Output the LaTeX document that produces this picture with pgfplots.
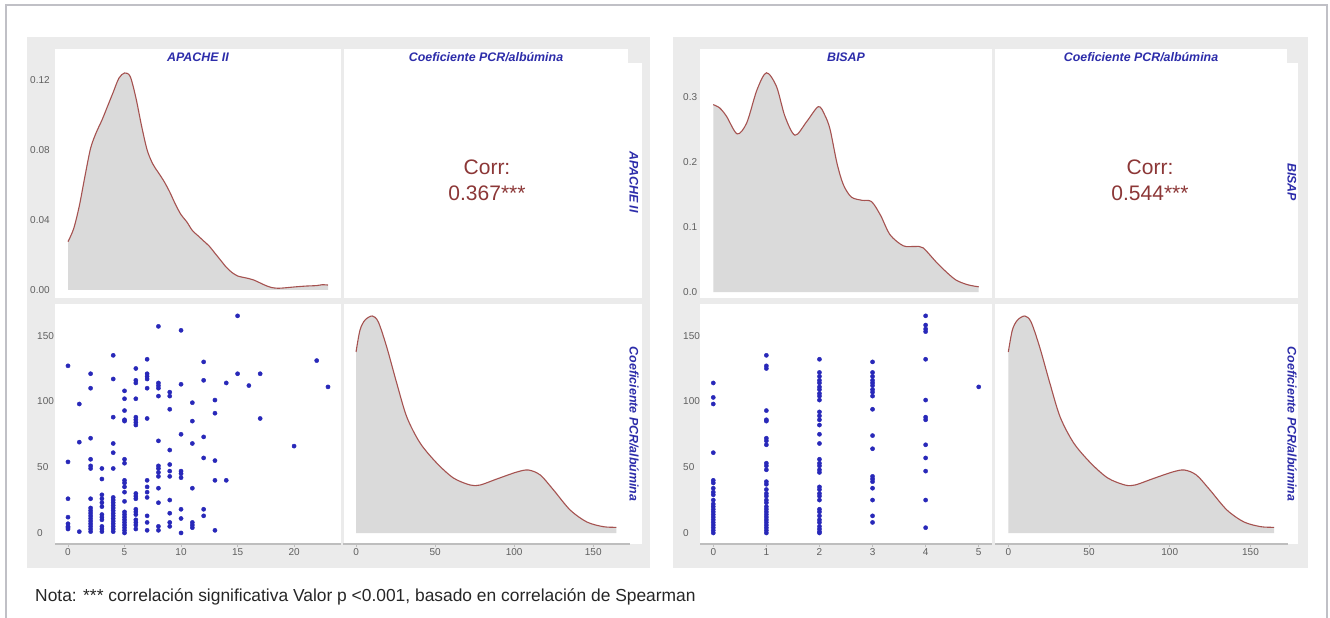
\documentclass[border=0pt]{standalone}
\usepackage{pgfplots}
\pgfplotsset{compat=1.18}
\usepackage{fontspec}
\setmainfont{Liberation Sans}
\definecolor{bgpanel}{RGB}{235,235,235}
\definecolor{framecol}{RGB}{192,192,198}
\definecolor{densfill}{RGB}{218,218,218}
\definecolor{curvecol}{RGB}{165,82,80}
\definecolor{ptscol}{RGB}{40,40,185}
\definecolor{stripcol}{RGB}{45,45,170}
\definecolor{corrcol}{RGB}{140,55,55}
\definecolor{tickcol}{RGB}{95,95,95}
\definecolor{axiscol}{RGB}{190,190,190}
\pgfplotsset{
  panel/.style={scale only axis, anchor=north west, axis lines*=left,
    axis line style={-},
    y axis line style={draw=none}, x axis line style={draw=none},
    ytick style={draw=none}, xtick style={draw=none},
    major tick length=3pt, xtick align=outside, ytick align=inside,
    ticklabel style={font=\fontsize{10}{10}\selectfont, text=tickcol},
    yticklabel style={anchor=west, inner sep=0pt},
    xticklabel style={inner sep=1pt},
    clip=false},
  bottomrow/.style={x axis line style={draw=axiscol, line width=1.3pt},
    xtick style={draw=axiscol, line width=0.8pt}},
  dens/.style={draw=none, fill=densfill, smooth},
  densline/.style={draw=curvecol, line width=1.1pt, smooth},
  pts/.style={only marks, mark=*, mark size=2.1pt, color=ptscol, mark options={fill=ptscol, draw=ptscol}},
}
\newcommand\stripfont{\fontsize{12.4}{14}\selectfont\bfseries\itshape}
\begin{document}
\begin{tikzpicture}
\path[use as bounding box] (0pt,0pt) rectangle (1330pt,-618pt);
\fill[white] (0pt,0pt) rectangle (1330pt,-618pt);
\begin{scope}[x=1pt,y=1pt]
\draw[framecol, line width=2.5pt] (6,-640) -- (6,-5) -- (1327,-5) -- (1327,-640);
% gray backgrounds
\fill[bgpanel] (27,-37) rectangle (650,-568);
\fill[bgpanel] (673,-37) rectangle (1308,-568);
% white panels left
\fill[white] (55,-49) rectangle (341,-298);
\fill[white] (344,-49) rectangle (628,-298);
\fill[white] (344,-63) rectangle (642,-298);
\fill[white] (55,-304) rectangle (341,-544);
\fill[white] (344,-304) rectangle (642,-544);
% white panels right
\fill[white] (700,-49) rectangle (992,-298);
\fill[white] (995,-49) rectangle (1287,-298);
\fill[white] (995,-63) rectangle (1298,-298);
\fill[white] (700,-304) rectangle (992,-544);
\fill[white] (995,-304) rectangle (1298,-544);
\end{scope}

% ---------- LEFT: APACHE II density
\begin{axis}[panel, at={(55pt,-63pt)}, width=286pt, height=235pt,
  xmin=-1.15, xmax=24.15, ymin=-0.0046, ymax=0.1297,
  xtick=\empty, ytick={0,0.04,0.08,0.12}, yticklabels={0.00,0.04,0.08,0.12},
  yticklabel style={xshift=-25pt}]
\addplot[dens] coordinates {(0,0.0276) (0.5,0.035) (1.0,0.048) (1.5,0.065) (2.0,0.081) (2.5,0.090) (3.0,0.097) (3.5,0.105) (4.0,0.113) (4.5,0.121) (5.0,0.124) (5.5,0.122) (6.0,0.110) (6.5,0.094) (7.0,0.080) (7.5,0.072) (8.0,0.067) (8.5,0.062) (9.0,0.056) (9.5,0.049) (10.0,0.043) (10.5,0.039) (11.0,0.034) (11.5,0.031) (12.0,0.028) (12.5,0.025) (13.0,0.021) (13.5,0.017) (14.0,0.013) (14.5,0.010) (15.0,0.008) (15.5,0.0072) (16.0,0.0065) (16.5,0.0055) (17.0,0.004) (17.5,0.0025) (18.0,0.0014) (18.5,0.0010) (19.0,0.0011) (20.0,0.0017) (21.0,0.0022) (22.0,0.0025) (22.5,0.0030) (23.0,0.0028)} \closedcycle;
\addplot[densline] coordinates {(0,0.0276) (0.5,0.035) (1.0,0.048) (1.5,0.065) (2.0,0.081) (2.5,0.090) (3.0,0.097) (3.5,0.105) (4.0,0.113) (4.5,0.121) (5.0,0.124) (5.5,0.122) (6.0,0.110) (6.5,0.094) (7.0,0.080) (7.5,0.072) (8.0,0.067) (8.5,0.062) (9.0,0.056) (9.5,0.049) (10.0,0.043) (10.5,0.039) (11.0,0.034) (11.5,0.031) (12.0,0.028) (12.5,0.025) (13.0,0.021) (13.5,0.017) (14.0,0.013) (14.5,0.010) (15.0,0.008) (15.5,0.0072) (16.0,0.0065) (16.5,0.0055) (17.0,0.004) (17.5,0.0025) (18.0,0.0014) (18.5,0.0010) (19.0,0.0011) (20.0,0.0017) (21.0,0.0022) (22.0,0.0025) (22.5,0.0030) (23.0,0.0028)};
\end{axis}

% ---------- LEFT: scatter APACHE vs PCR
\begin{axis}[panel, bottomrow, at={(55pt,-304pt)}, width=286pt, height=240pt,
  xmin=-1.15, xmax=24.15, ymin=-8.4, ymax=174,
  xtick={0,5,10,15,20}, xticklabels={0,5,10,15,20},
  ytick={0,50,100,150}, yticklabels={0,50,100,150},
  yticklabel style={xshift=-18pt}]
\addplot[pts] coordinates {
(0,127) (0,54) (0,26) (0,12) (0,7) (0,5) (0,4) (0,3)
(1,98) (1,69) (1,1)
(2,121) (2,110) (2,72) (2,56) (2,51) (2,49) (2,26) (2,19) (2,17) (2,15) (2,13) (2,11) (2,9) (2,7) (2,5) (2,3) (2,1)
(3,49) (3,41) (3,29) (3,26) (3,23) (3,20) (3,14) (3,12) (3,10) (3,5) (3,3) (3,1)
(4,135) (4,117) (4,88) (4,68) (4,61) (4,49) (4,27) (4,25) (4,23) (4,21) (4,19) (4,17) (4,15) (4,13) (4,11) (4,9) (4,7) (4,5) (4,3) (4,1)
(5,108) (5,102) (5,93) (5,86) (5,85) (5,56) (5,53) (5,40) (5,38) (5,35) (5,31) (5,24) (5,16) (5,14) (5,12) (5,10) (5,8) (5,6) (5,4) (5,2) (5,0)
(6,125) (6,116) (6,114) (6,102) (6,88) (6,86) (6,84) (6,82) (6,30) (6,28) (6,26) (6,18) (6,16) (6,14) (6,10) (6,8) (6,6) (6,3)
(7,132) (7,121) (7,119) (7,117) (7,110) (7,87) (7,40) (7,35) (7,31) (7,27) (7,13) (7,8) (7,2)
(8,157) (8,114) (8,112) (8,110) (8,104) (8,70) (8,51) (8,49) (8,46) (8,43) (8,34) (8,23) (8,5) (8,2)
(9,107) (9,104) (9,94) (9,63) (9,52) (9,47) (9,43) (9,25) (9,15) (9,8) (9,5)
(10,154) (10,113) (10,75) (10,47) (10,45) (10,42) (10,18) (10,11) (10,0)
(11,99) (11,85) (11,68) (11,34) (11,8) (11,6) (11,4)
(12,130) (12,116) (12,73) (12,57) (12,18) (12,13)
(13,101) (13,91) (13,55) (13,40) (13,2)
(14,114) (14,40)
(15,165) (15,121)
(16,112)
(17,121) (17,87)
(20,66) (22,131) (23,111)};
\end{axis}

% ---------- LEFT: PCR density
\begin{axis}[panel, bottomrow, at={(343pt,-304pt)}, width=287pt, height=240pt,
  xmin=-8.25, xmax=173.25, ymin=-11, ymax=229,
  xtick={0,50,100,150}, xticklabels={0,50,100,150}, ytick=\empty]
\addplot[dens] coordinates {(0,181) (2.5,203) (5.7,213) (10.3,217) (14.1,211) (19.4,186) (25.7,150) (32.1,116) (40.5,90) (51,70) (61.6,55) (72.2,48) (78.5,48) (89,54) (101.7,61) (109,63) (116.5,58) (124.9,43) (135.4,23) (146,11) (156.5,6.3) (164.6,5.7)} \closedcycle;
\addplot[densline] coordinates {(0,181) (2.5,203) (5.7,213) (10.3,217) (14.1,211) (19.4,186) (25.7,150) (32.1,116) (40.5,90) (51,70) (61.6,55) (72.2,48) (78.5,48) (89,54) (101.7,61) (109,63) (116.5,58) (124.9,43) (135.4,23) (146,11) (156.5,6.3) (164.6,5.7)};
\end{axis}

% ---------- RIGHT: BISAP density
\begin{axis}[panel, at={(700pt,-63pt)}, width=292pt, height=235pt,
  xmin=-0.25, xmax=5.25, ymin=-0.0092, ymax=0.352,
  xtick=\empty, ytick={0,0.1,0.2,0.3}, yticklabels={0.0,0.1,0.2,0.3},
  yticklabel style={xshift=-17pt}]
\addplot[dens] coordinates {(0,0.288) (0.12,0.283) (0.25,0.27) (0.45,0.243) (0.63,0.26) (0.82,0.31) (1.0,0.337) (1.19,0.316) (1.35,0.27) (1.54,0.241) (1.76,0.262) (1.98,0.285) (2.1,0.272) (2.2,0.25) (2.33,0.198) (2.45,0.165) (2.6,0.146) (2.8,0.141) (2.98,0.139) (3.15,0.118) (3.33,0.088) (3.58,0.071) (3.8,0.070) (3.95,0.068) (4.2,0.046) (4.4,0.030) (4.58,0.018) (4.8,0.011) (5.0,0.008)} \closedcycle;
\addplot[densline] coordinates {(0,0.288) (0.12,0.283) (0.25,0.27) (0.45,0.243) (0.63,0.26) (0.82,0.31) (1.0,0.337) (1.19,0.316) (1.35,0.27) (1.54,0.241) (1.76,0.262) (1.98,0.285) (2.1,0.272) (2.2,0.25) (2.33,0.198) (2.45,0.165) (2.6,0.146) (2.8,0.141) (2.98,0.139) (3.15,0.118) (3.33,0.088) (3.58,0.071) (3.8,0.070) (3.95,0.068) (4.2,0.046) (4.4,0.030) (4.58,0.018) (4.8,0.011) (5.0,0.008)};
\end{axis}

% ---------- RIGHT: scatter BISAP vs PCR
\begin{axis}[panel, bottomrow, at={(700pt,-304pt)}, width=292pt, height=240pt,
  xmin=-0.25, xmax=5.25, ymin=-8.4, ymax=174,
  xtick={0,1,2,3,4,5}, xticklabels={0,1,2,3,4,5},
  ytick={0,50,100,150}, yticklabels={0,50,100,150},
  yticklabel style={xshift=-17pt}]
\addplot[pts] coordinates {
(0,114) (0,103) (0,98) (0,61) (0,40) (0,38) (0,34) (0,31) (0,29) (0,25) (0,22) (0,20) (0,18) (0,16) (0,14) (0,12) (0,10) (0,8) (0,6) (0,4) (0,2) (0,0)
(1,135) (1,127) (1,125) (1,93) (1,86) (1,85) (1,72) (1,70) (1,67) (1,53) (1,51) (1,48) (1,39) (1,37) (1,33) (1,30) (1,28) (1,25) (1,23) (1,20) (1,18) (1,16) (1,14) (1,12) (1,10) (1,8) (1,6) (1,4) (1,2) (1,0)
(2,132) (2,122) (2,119) (2,116) (2,114) (2,111) (2,109) (2,106) (2,104) (2,101) (2,92) (2,89) (2,86) (2,82) (2,75) (2,68) (2,56) (2,53) (2,51) (2,48) (2,46) (2,35) (2,33) (2,30) (2,28) (2,25) (2,18) (2,16) (2,13) (2,10) (2,8) (2,5) (2,3) (2,1) (2,0)
(3,130) (3,122) (3,119) (3,116) (3,114) (3,112) (3,109) (3,107) (3,104) (3,94) (3,74) (3,64) (3,43) (3,41) (3,39) (3,34) (3,25) (3,13) (3,8)
(4,165) (4,158) (4,155) (4,153) (4,132) (4,101) (4,88) (4,86) (4,67) (4,57) (4,47) (4,25) (4,4)
(5,111)};
\end{axis}

% ---------- RIGHT: PCR density
\begin{axis}[panel, bottomrow, at={(995pt,-304pt)}, width=293pt, height=240pt,
  xmin=-8.25, xmax=173.25, ymin=-11, ymax=229,
  xtick={0,50,100,150}, xticklabels={0,50,100,150}, ytick=\empty]
\addplot[dens] coordinates {(0,181) (2.5,203) (5.7,213) (10.3,217) (14.1,211) (19.4,186) (25.7,150) (32.1,116) (40.5,90) (51,70) (61.6,55) (72.2,48) (78.5,48) (89,54) (101.7,61) (109,63) (116.5,58) (124.9,43) (135.4,23) (146,11) (156.5,6.3) (164.6,5.7)} \closedcycle;
\addplot[densline] coordinates {(0,181) (2.5,203) (5.7,213) (10.3,217) (14.1,211) (19.4,186) (25.7,150) (32.1,116) (40.5,90) (51,70) (61.6,55) (72.2,48) (78.5,48) (89,54) (101.7,61) (109,63) (116.5,58) (124.9,43) (135.4,23) (146,11) (156.5,6.3) (164.6,5.7)};
\end{axis}

% ---------- strip labels and text
\begin{scope}[x=1pt,y=1pt]
\node[font=\stripfont, text=stripcol] at (198,-57) {APACHE II};
\node[font=\stripfont, text=stripcol] at (486,-57) {Coeficiente PCR/albúmina};
\node[font=\stripfont, text=stripcol, rotate=-90] at (634,-182) {APACHE II};
\node[font=\stripfont, text=stripcol, rotate=-90] at (634,-424) {Coeficiente PCR/albúmina};
\node[font=\stripfont, text=stripcol] at (846,-57) {BISAP};
\node[font=\stripfont, text=stripcol] at (1141,-57) {Coeficiente PCR/albúmina};
\node[font=\stripfont, text=stripcol, rotate=-90] at (1292,-182) {BISAP};
\node[font=\stripfont, text=stripcol, rotate=-90] at (1292,-424) {Coeficiente PCR/albúmina};
\node[font=\fontsize{21}{26}\selectfont, text=corrcol, align=center] at (487,-180) {Corr:\\0.367***};
\node[font=\fontsize{21}{26}\selectfont, text=corrcol, align=center] at (1150,-180) {Corr:\\0.544***};
\node[font=\fontsize{17.4}{19}\selectfont, text=black!85, anchor=west, inner sep=0pt] at (35,-597) {Nota: *** correlación significativa Valor p <0.001, basado en correlación de Spearman};
\end{scope}
\end{tikzpicture}
\end{document}
